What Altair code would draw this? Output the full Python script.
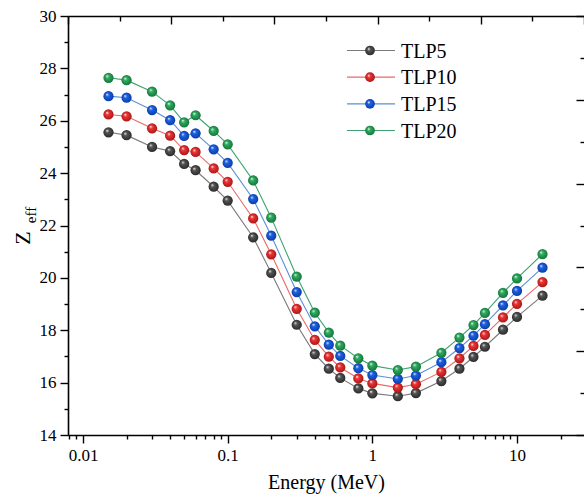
import altair as alt
import pandas as pd

# ---------------- data ----------------
energy = [0.015, 0.02, 0.03, 0.04, 0.05, 0.06, 0.08, 0.1, 0.15, 0.2, 0.3, 0.4, 0.5,
          0.6, 0.8, 1, 1.5, 2, 3, 4, 5, 6, 8, 10, 15]
tlp5 = [25.56, 25.45, 25.00, 24.84, 24.35, 24.11, 23.48, 22.95, 21.55, 20.19, 18.21, 17.09, 16.53,
        16.18, 15.78, 15.59, 15.48, 15.60, 16.06, 16.53, 16.98, 17.37, 18.02, 18.51, 19.32]
tlp10 = [26.24, 26.17, 25.71, 25.43, 24.88, 24.81, 24.18, 23.67, 22.27, 20.90, 18.82, 17.63, 16.99,
         16.58, 16.16, 15.97, 15.81, 15.94, 16.41, 16.93, 17.40, 17.82, 18.49, 19.01, 19.84]
tlp15 = [26.94, 26.88, 26.41, 26.02, 25.42, 25.52, 24.91, 24.39, 23.01, 21.61, 19.46, 18.15, 17.45,
         17.02, 16.55, 16.29, 16.14, 16.27, 16.78, 17.32, 17.79, 18.23, 18.95, 19.50, 20.39]
tlp20 = [27.64, 27.55, 27.11, 26.59, 25.94, 26.21, 25.61, 25.10, 23.72, 22.30, 20.05, 18.67, 17.91,
         17.41, 16.93, 16.65, 16.48, 16.61, 17.14, 17.72, 18.20, 18.66, 19.43, 19.98, 20.91]

series_names = ["TLP5", "TLP10", "TLP15", "TLP20"]
series_values = [tlp5, tlp10, tlp15, tlp20]

x_tick_values = [0.008, 0.009, 0.01, 0.02, 0.03, 0.04, 0.05, 0.06, 0.07, 0.08, 0.09,
                 0.1, 0.2, 0.3, 0.4, 0.5, 0.6, 0.7, 0.8, 0.9,
                 1, 2, 3, 4, 5, 6, 7, 8, 9, 10, 20]
y_tick_values = list(range(14, 31))
frame_ticks = list(range(0, 11))
frame_domain = [0, 10]

# ---------------- styles ----------------
FONT = "'Liberation Serif', 'Times New Roman', Times, 'DejaVu Serif', serif"
line_colors = ["#7a7a7a", "#ee6666", "#5b8fd6", "#3ea371"]
ball_base = ["#555555", "#ee3535", "#1c62e6", "#2fae60"]
ball_dark = ["#262626", "#a01515", "#0b3a9e", "#146e38"]


def ball(base, dark):
    return {
        "gradient": "radial",
        "x1": 0.35, "y1": 0.32, "r1": 0.0,
        "x2": 0.5, "y2": 0.5, "r2": 0.55,
        "stops": [
            {"offset": 0.0, "color": "#ffffff"},
            {"offset": 0.3, "color": base},
            {"offset": 1.0, "color": dark},
        ],
    }


rows = []
for name, vals in zip(series_names, series_values):
    for e, v in zip(energy, vals):
        rows.append({"energy": e, "zeff": v, "series": name})
df = pd.DataFrame(rows)

major_test = "indexof([0.01, 0.1, 1, 10], datum.value) >= 0"

x_enc = alt.X(
    "energy:Q",
    scale=alt.Scale(type="log", domain=[0.007874, 29.04], nice=False),
    axis=alt.Axis(
        orient="bottom",
        values=x_tick_values,
        labelExpr=f"{major_test} ? format(datum.value, '~g') : ''",
        tickSize={"condition": {"test": major_test, "value": 8}, "value": 4},
        labelOverlap=False,
        title="Energy (MeV)",
        titlePadding=9,
        grid=False,
    ),
)
y_enc = alt.Y(
    "zeff:Q",
    scale=alt.Scale(domain=[14, 30], nice=False, zero=False),
    axis=alt.Axis(
        orient="left",
        values=y_tick_values,
        labelExpr="datum.value % 2 == 0 ? datum.label : ''",
        tickSize={"condition": {"test": "datum.value % 2 == 0", "value": 8}, "value": 4},
        labelOverlap=False,
        title=None,
        grid=False,
    ),
)

lines = alt.Chart(df).mark_line(strokeWidth=1.1).encode(
    x=x_enc,
    y=y_enc,
    color=alt.Color("series:N", scale=alt.Scale(domain=series_names, range=line_colors), legend=None),
)

point_layers = []
for i, name in enumerate(series_names):
    point_layers.append(
        alt.Chart(df)
        .transform_filter(alt.datum.series == name)
        .mark_circle(size=105, opacity=1, fill=ball(ball_base[i], ball_dark[i]))
        .encode(x=x_enc, y=y_enc)
    )

main = alt.layer(lines, *point_layers)

# ---------------- frame (top / right ticks) ----------------
frame_df = pd.DataFrame({"t": frame_domain})
frame = alt.Chart(frame_df).mark_point(opacity=0).encode(
    x=alt.X(
        "t:Q",
        scale=alt.Scale(domain=frame_domain, nice=False),
        axis=alt.Axis(
            orient="top", values=frame_ticks, labels=False, title=None, grid=False,
            domain=True,
            tickSize={"condition": {"test": "datum.value % 2 == 0", "value": -8}, "value": -5},
        ),
    ),
    y=alt.Y(
        "t:Q",
        scale=alt.Scale(domain=frame_domain, nice=False),
        axis=alt.Axis(
            orient="right", values=frame_ticks, labels=False, title=None, grid=False,
            domain=False,
            tickSize={"condition": {"test": "datum.value % 2 == 0", "value": -8}, "value": -4},
        ),
    ),
)

# ---------------- legend ----------------
leg_df = pd.DataFrame({"series": series_names})
leg_y = alt.Y("series:N", scale=alt.Scale(type="point", domain=series_names, range=[34.5, 114.5], padding=0), axis=None)
leg_lines = alt.Chart(leg_df).mark_rule(strokeWidth=1.1).encode(
    x=alt.value(279), x2=alt.value(327), y=leg_y,
    color=alt.Color("series:N", scale=alt.Scale(domain=series_names, range=line_colors), legend=None),
)
leg_balls = []
for i, name in enumerate(series_names):
    leg_balls.append(
        alt.Chart(leg_df)
        .transform_filter(alt.datum.series == name)
        .mark_circle(size=95, opacity=1, fill=ball(ball_base[i], ball_dark[i]))
        .encode(x=alt.value(302), y=leg_y)
    )
leg_text = alt.Chart(leg_df).mark_text(
    align="left", baseline="middle", font=FONT, fontSize=20, color="black", dy=1
).encode(x=alt.value(333), y=leg_y, text="series:N")
legend = alt.layer(leg_lines, *leg_balls, leg_text)

# ---------------- y title Z_eff ----------------
ztitle = alt.Chart(alt.Data(values=[{"a": 1}])).mark_text(
    text="Z", angle=270, font=FONT, fontSize=22, color="black", align="center", baseline="middle"
).encode(x=alt.value(-45), y=alt.value(222))
eff = alt.Chart(alt.Data(values=[{"a": 1}])).mark_text(
    text="eff", angle=270, font=FONT, fontSize=15, color="black", align="center", baseline="middle"
).encode(x=alt.value(-37), y=alt.value(199))

chart = (
    alt.layer(main, frame, legend, ztitle, eff)
    .resolve_scale(x="independent", y="independent", color="shared")
    .properties(
        width=516, height=419, autosize="none",
        padding={"left": 68, "top": 16, "right": 0, "bottom": 67},
        background="white",
    )
    .configure_view(stroke=None)
    .configure_axis(
        labelFont=FONT, labelFontSize=17, labelColor="black", labelPadding=4,
        titleFont=FONT, titleFontSize=20, titleColor="black", titleFontWeight="normal",
        domainColor="black", domainWidth=1.6, tickColor="black", tickWidth=1.4,
    )
)

chart.save("out.html", embed_options={"renderer": "svg", "actions": False})
